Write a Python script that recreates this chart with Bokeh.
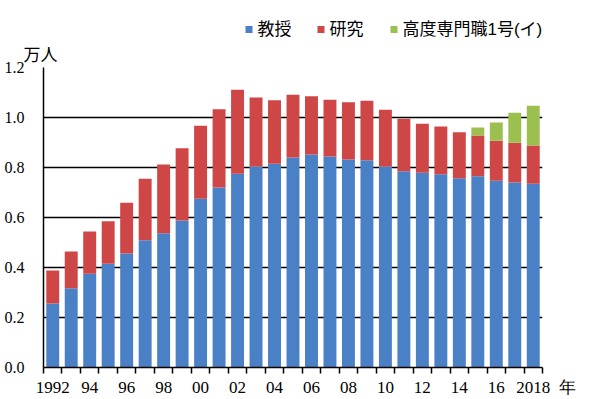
from bokeh.plotting import figure
from bokeh.layouts import column
from bokeh.models import ColumnDataSource, Range1d, FixedTicker, PrintfTickFormatter
from bokeh.core.properties import value
from bokeh.embed import file_html
from bokeh.resources import INLINE

years = list(range(1992, 2019))
kyoju = [0.256, 0.317, 0.375, 0.415, 0.456, 0.509, 0.537, 0.588, 0.675, 0.720,
         0.775, 0.804, 0.815, 0.840, 0.852, 0.844, 0.832, 0.829, 0.804, 0.785,
         0.779, 0.773, 0.757, 0.765, 0.747, 0.740, 0.735]
kenkyu = [0.132, 0.147, 0.169, 0.170, 0.203, 0.246, 0.275, 0.289, 0.292, 0.313,
          0.336, 0.276, 0.254, 0.251, 0.233, 0.227, 0.229, 0.238, 0.227, 0.210,
          0.196, 0.191, 0.184, 0.163, 0.160, 0.159, 0.153]
koudo = [0, 0, 0, 0, 0, 0, 0, 0, 0, 0,
         0, 0, 0, 0, 0, 0, 0, 0, 0, 0,
         0, 0, 0, 0.032, 0.073, 0.120, 0.159]
series_names = ["教授", "研究", "高度専門職1号(イ)"]
colors = ["#4A80C6", "#CF4646", "#9CC04F"]
x_tick_years = [1992, 1994, 1996, 1998, 2000, 2002, 2004, 2006, 2008, 2010, 2012, 2014, 2016, 2018]
x_tick_labels = ["1992", "94", "96", "98", "00", "02", "04", "06", "08", "10", "12", "14", "16", "2018"]
x_unit = "年"
y_unit = "万人"
y_ticks = [0.0, 0.2, 0.4, 0.6, 0.8, 1.0, 1.2]

# Latin metrics first (compact text boxes), CJK glyphs from Noto Sans CJK JP
JP = "Liberation Sans, Noto Sans CJK JP"
NUM = "Liberation Sans Narrow"

FRAME_L, FRAME_R = 43, 542   # plot frame in page pixels

# ---------------- header strip: legend ----------------
HEAD_H = 40
head = figure(width=600, height=HEAD_H, output_backend="svg", toolbar_location=None,
              x_range=Range1d(FRAME_L, FRAME_R), y_range=Range1d(HEAD_H, 0),
              x_axis_location=None, y_axis_location=None,
              min_border=0, min_border_left=FRAME_L, min_border_right=600 - FRAME_R,
              min_border_top=0, min_border_bottom=0)
head.outline_line_color = None
head.xgrid.visible = False
head.ygrid.visible = False
leg_x = [245, 317, 390]          # legend layout (page px)
leg_y = 29
head.rect(x=[x + 3.5 for x in leg_x], y=[leg_y] * 3, width=7, height=7,
          color=colors, line_color=None)
head.text(x=[x + 12 for x in leg_x], y=[leg_y] * 3, text=series_names,
          text_font=value(JP), text_font_size="17px", text_color="black",
          text_baseline="middle", text_align="left")

# ---------------- main chart ----------------
src = ColumnDataSource(dict(year=years, kyoju=kyoju, kenkyu=kenkyu, koudo=koudo))

p = figure(width=600, height=399 - HEAD_H, output_backend="svg", toolbar_location=None,
           title=y_unit,
           x_range=Range1d(years[0] - 0.5, years[-1] + 0.5), y_range=Range1d(0, 1.2),
           min_border_left=FRAME_L, min_border_right=600 - FRAME_R,
           min_border_top=67 - HEAD_H, min_border_bottom=32)
p.title.align = "left"
p.title.offset = -20
p.title.standoff = 6
p.title.text_font = JP
p.title.text_font_size = "17px"
p.title.text_font_style = "normal"
p.title.text_color = "black"
p.outline_line_color = None
p.background_fill_color = "white"

p.vbar_stack(["kyoju", "kenkyu", "koudo"], x="year", width=0.7, source=src,
             color=colors, line_color=None)

labels = {y: l for y, l in zip(x_tick_years, x_tick_labels)}
# last label carries the unit on its right, padded on the left so "2018" stays centred
labels[x_tick_years[-1]] = "\u3000\u2002" + x_tick_labels[-1] + "\u2002" + x_unit
xa = p.xaxis[0]
xa.ticker = FixedTicker(ticks=x_tick_years,
                        minor_ticks=[y - 0.5 for y in years] + [years[-1] + 0.5])
xa.major_label_overrides = labels
xa.major_tick_line_color = None
xa.major_tick_out = 0
xa.major_tick_in = 0
xa.minor_tick_line_color = "black"
xa.minor_tick_line_width = 1.5
xa.minor_tick_out = 6
xa.minor_tick_in = 0
xa.axis_line_color = "black"
xa.axis_line_width = 1.5
xa.major_label_standoff = 4
xa.major_label_text_font = NUM
xa.major_label_text_font_size = "17px"
xa.major_label_text_color = "black"

ya = p.yaxis[0]
ya.ticker = FixedTicker(ticks=y_ticks)
ya.formatter = PrintfTickFormatter(format="%.1f")
ya.major_tick_line_color = None
ya.major_tick_out = 0
ya.major_tick_in = 0
ya.minor_tick_line_color = None
ya.axis_line_color = "black"
ya.axis_line_width = 1.5
ya.major_label_standoff = 19
ya.major_label_text_font = NUM
ya.major_label_text_font_size = "16px"
ya.major_label_text_color = "black"

p.xgrid.grid_line_color = None
p.ygrid.grid_line_color = "black"
p.ygrid.grid_line_width = 1.5
p.ygrid.ticker = FixedTicker(ticks=y_ticks)

layout = column(head, p, spacing=0)
open("out.html", "w").write(file_html(layout, INLINE))
